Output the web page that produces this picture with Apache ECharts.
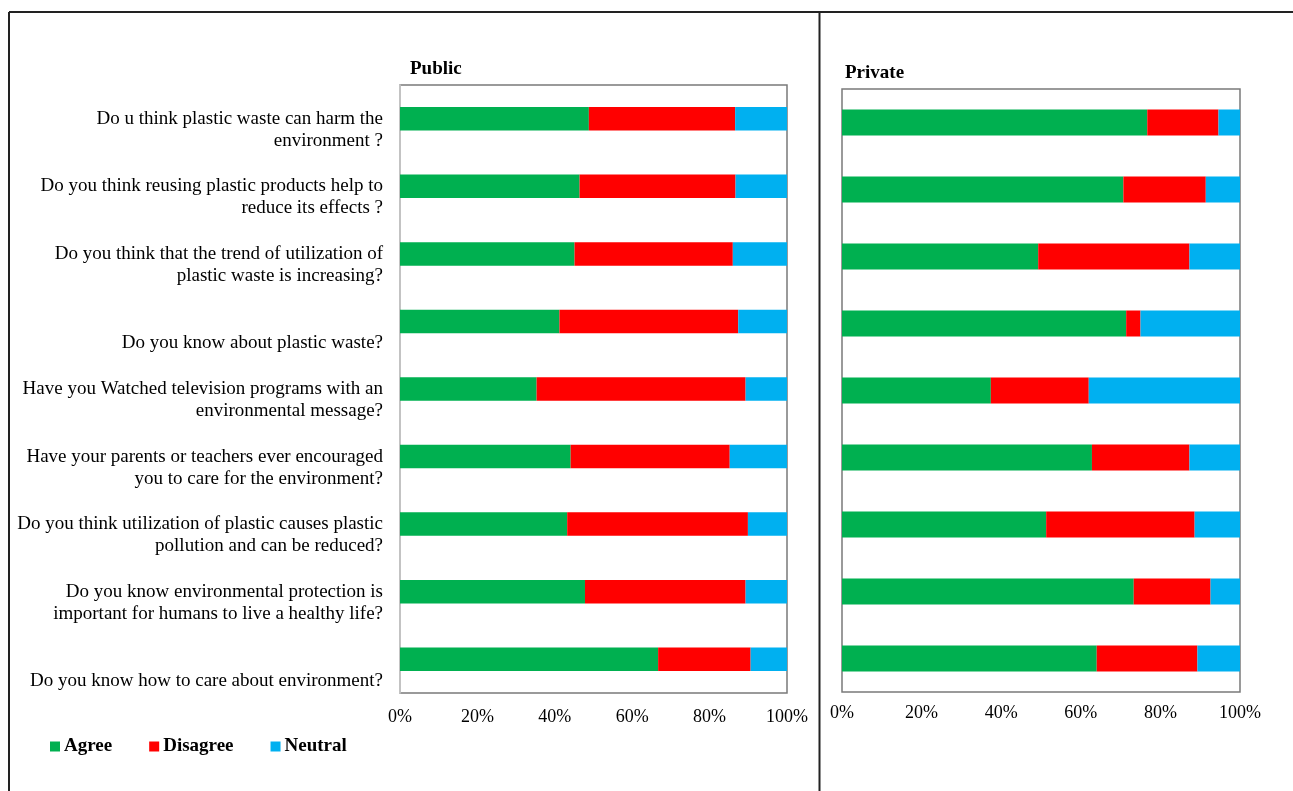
<!DOCTYPE html>
<html>
<head>
<meta charset="utf-8">
<script src="https://cdn.jsdelivr.net/npm/echarts@6/dist/echarts.min.js"></script>
<style>
  html, body { margin: 0; padding: 0; background: #fff; }
  #chart { width: 1293px; height: 791px; }
</style>
</head>
<body>
<div id="chart"></div>
<script>
// Survey questions, top to bottom
const questions = [
  "\nDo u think plastic waste can harm the\nenvironment ?",
  "\nDo you think reusing plastic products help to\nreduce its effects ?",
  "\nDo you think that the trend of utilization of\nplastic waste is increasing?",
  "\n\nDo you know about plastic waste?",
  "\nHave you Watched television programs with an\nenvironmental message?",
  "\nHave your parents or teachers ever encouraged\nyou to care for the environment?",
  "\nDo you think utilization of plastic causes plastic\npollution and can be reduced?",
  "\nDo you know environmental protection is\nimportant for humans to live a healthy life?",
  "\n\nDo you know how to care about environment?"
];

// Public schools (% of responses)
const publicAgree    = [48.8, 46.4, 45.1, 41.2, 35.3, 44.1, 43.2, 47.8, 66.7];
const publicDisagree = [37.8, 40.3, 40.9, 46.2, 54.0, 41.1, 46.7, 41.5, 23.9];
const publicNeutral  = [13.4, 13.3, 14.0, 12.6, 10.7, 14.8, 10.1, 10.7, 9.4];

// Private schools (% of responses)
const privateAgree    = [76.7, 70.7, 49.3, 71.4, 37.4, 62.8, 51.3, 73.3, 64.0];
const privateDisagree = [17.9, 20.7, 38.0, 3.6, 24.6, 24.5, 37.3, 19.3, 25.3];
const privateNeutral  = [5.4, 8.6, 12.7, 25.0, 38.0, 12.7, 11.4, 7.4, 10.7];

const xTicks = { min: 0, max: 100, interval: 20 };
const panelTitles = ["Public", "Private"];
const seriesNames = ["Agree", "Disagree", "Neutral"];
const colors = ["#00B050", "#FF0000", "#00B0F0"];

const serif = "'Liberation Serif', 'Times New Roman', serif";

const chart = echarts.init(document.getElementById('chart'), null, { renderer: 'canvas' });

function valueAxis(gridIndex, margin) {
  return {
    type: 'value', gridIndex: gridIndex,
    min: xTicks.min, max: xTicks.max, interval: xTicks.interval,
    splitLine: { show: false },
    axisLine: { show: false },
    axisTick: { show: false },
    axisLabel: {
      formatter: '{value}%', color: '#000', fontFamily: serif, fontSize: 18, margin: margin
    }
  };
}

function barSeries(name, data, axisIndex, stack, width, color) {
  return {
    name: name, type: 'bar', stack: stack,
    xAxisIndex: axisIndex, yAxisIndex: axisIndex,
    data: data, barWidth: width,
    itemStyle: { color: color },
    emphasis: { disabled: true },
    animation: false
  };
}

const option = {
  backgroundColor: '#fff',
  animation: false,
  title: [
    { text: panelTitles[0], left: 410, top: 60, padding: 0,
      textStyle: { fontFamily: serif, fontSize: 19, fontWeight: 'bold', color: '#000' } },
    { text: panelTitles[1], left: 845, top: 64, padding: 0,
      textStyle: { fontFamily: serif, fontSize: 19, fontWeight: 'bold', color: '#000' } }
  ],
  legend: {
    data: seriesNames,
    left: 50, top: 737,
    icon: 'rect', itemWidth: 10, itemHeight: 10, itemGap: 37,
    padding: 0,
    textStyle: { fontFamily: serif, fontSize: 19, fontWeight: 'bold', color: '#000', padding: [0, 0, 0, -1] }
  },
  grid: [
    { left: 400, top: 85, width: 387, height: 608, show: true,
      borderColor: '#7a7a7a', borderWidth: 1.5, backgroundColor: '#fff' },
    { left: 842, top: 89, width: 398, height: 603, show: true,
      borderColor: '#7a7a7a', borderWidth: 1.5, backgroundColor: '#fff' }
  ],
  xAxis: [valueAxis(0, 15), valueAxis(1, 12)],
  yAxis: [
    {
      type: 'category', gridIndex: 0, data: questions, inverse: true,
      axisLine: { show: true, lineStyle: { color: '#d0d0d0', width: 1.5 } },
      axisTick: { show: false },
      axisLabel: {
        color: '#000', fontFamily: serif, fontSize: 19, lineHeight: 22,
        margin: 17, align: 'right', verticalAlign: 'middle', interval: 0,
        padding: [4, 0, 0, 0]
      }
    },
    {
      type: 'category', gridIndex: 1, data: questions, inverse: true,
      axisLine: { show: false },
      axisTick: { show: false },
      axisLabel: { show: false }
    }
  ],
  series: [
    barSeries(seriesNames[0], publicAgree, 0, 'pub', 23.5, colors[0]),
    barSeries(seriesNames[1], publicDisagree, 0, 'pub', 23.5, colors[1]),
    barSeries(seriesNames[2], publicNeutral, 0, 'pub', 23.5, colors[2]),
    barSeries(seriesNames[0], privateAgree, 1, 'priv', 26, colors[0]),
    barSeries(seriesNames[1], privateDisagree, 1, 'priv', 26, colors[1]),
    barSeries(seriesNames[2], privateNeutral, 1, 'priv', 26, colors[2])
  ],
  graphic: [
    // outer frame: top and left edges, plus the divider between panels
    { type: 'line', shape: { x1: 9, y1: 12, x2: 1293, y2: 12 },
      style: { stroke: '#222', lineWidth: 2 }, z: 100 },
    { type: 'line', shape: { x1: 9, y1: 12, x2: 9, y2: 791 },
      style: { stroke: '#222', lineWidth: 2 }, z: 100 },
    { type: 'line', shape: { x1: 819.5, y1: 12, x2: 819.5, y2: 791 },
      style: { stroke: '#222', lineWidth: 2 }, z: 100 }
  ]
};

chart.setOption(option);
</script>
</body>
</html>
